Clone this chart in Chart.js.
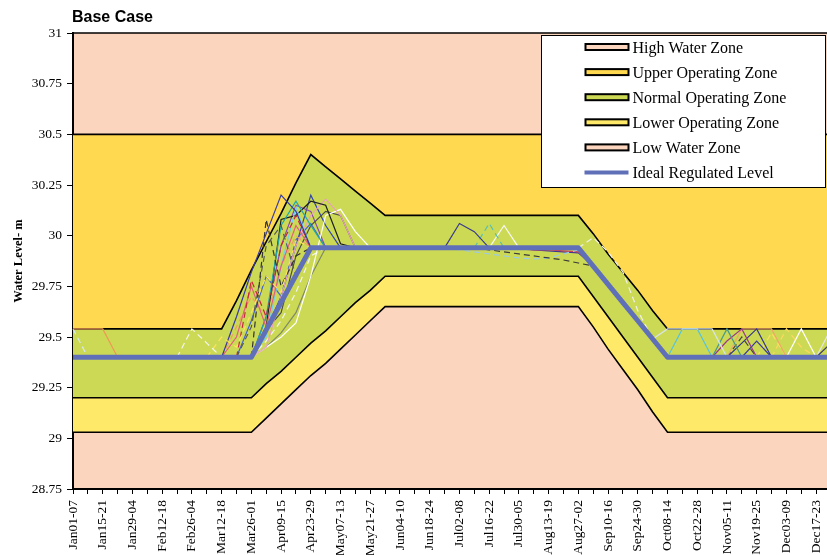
<!DOCTYPE html>
<html>
<head>
<meta charset="utf-8">
<title>Base Case</title>
<script src="https://cdn.jsdelivr.net/npm/chart.js@4.4.1/dist/chart.umd.min.js"></script>
<style>
  html, body { margin: 0; padding: 0; background: #ffffff; overflow: hidden; }
  #wrap { position: relative; width: 845px; height: 555px; }
</style>
</head>
<body>
<div id="wrap"><canvas id="chart" width="845" height="555"></canvas></div>
<script>
// Weekly periods of the year (category axis)
const weeks = [
  'Jan01-07','Jan08-14','Jan15-21','Jan22-28','Jan29-04','Feb05-11','Feb12-18','Feb19-25','Feb26-04',
  'Mar05-11','Mar12-18','Mar19-25','Mar26-01','Apr02-08','Apr09-15','Apr16-22','Apr23-29','Apr30-06',
  'May07-13','May14-20','May21-27','May28-03','Jun04-10','Jun11-17','Jun18-24','Jun25-01',
  'Jul02-08','Jul09-15','Jul16-22','Jul23-29','Jul30-05','Aug06-12','Aug13-19','Aug20-26','Aug27-02',
  'Sep03-09','Sep10-16','Sep17-23','Sep24-30','Oct01-07','Oct08-14','Oct15-21','Oct22-28','Oct29-04',
  'Nov05-11','Nov12-18','Nov19-25','Nov26-02','Dec03-09','Dec10-16','Dec17-23','Dec24-31'
];

// Water level axis ticks (m)
const levelTicks = [28.75, 29, 29.25, 29.5, 29.75, 30, 30.25, 30.5, 30.75, 31];

// Zone boundaries (m)
const upperLimit = [
  30.5,30.5,30.5,30.5,30.5,30.5,30.5,30.5,30.5,30.5,30.5,30.5,30.5,
  30.5,30.5,30.5,30.5,30.5,30.5,30.5,30.5,30.5,30.5,30.5,30.5,30.5,
  30.5,30.5,30.5,30.5,30.5,30.5,30.5,30.5,30.5,30.5,30.5,30.5,30.5,
  30.5,30.5,30.5,30.5,30.5,30.5,30.5,30.5,30.5,30.5,30.5,30.5,30.5
];
const normalTop = [
  29.54,29.54,29.54,29.54,29.54,29.54,29.54,29.54,29.54,29.54,
  29.54,29.68,29.83,29.97,30.11,30.26,30.40,30.34,30.28,30.22,
  30.16,30.10,30.10,30.10,30.10,30.10,30.10,30.10,30.10,30.10,
  30.10,30.10,30.10,30.10,30.10,30.01,29.91,29.82,29.73,29.63,
  29.54,29.54,29.54,29.54,29.54,29.54,29.54,29.54,29.54,29.54,29.54,29.54
];
const normalBottom = [
  29.20,29.20,29.20,29.20,29.20,29.20,29.20,29.20,29.20,29.20,29.20,29.20,29.20,
  29.27,29.33,29.40,29.47,29.53,29.60,29.67,29.73,
  29.80,29.80,29.80,29.80,29.80,29.80,29.80,29.80,29.80,29.80,29.80,29.80,29.80,29.80,
  29.70,29.60,29.50,29.40,29.30,
  29.20,29.20,29.20,29.20,29.20,29.20,29.20,29.20,29.20,29.20,29.20,29.20
];
const lowerLimit = [
  29.03,29.03,29.03,29.03,29.03,29.03,29.03,29.03,29.03,29.03,29.03,29.03,29.03,
  29.10,29.17,29.24,29.31,29.37,29.44,29.51,29.58,
  29.65,29.65,29.65,29.65,29.65,29.65,29.65,29.65,29.65,29.65,29.65,29.65,29.65,29.65,
  29.55,29.44,29.34,29.24,29.13,
  29.03,29.03,29.03,29.03,29.03,29.03,29.03,29.03,29.03,29.03,29.03,29.03
];

// Ideal regulated level (m)
const idealLevel = [
  29.40,29.40,29.40,29.40,29.40,29.40,29.40,29.40,29.40,29.40,29.40,29.40,29.40,
  29.535,29.67,29.805,
  29.94,29.94,29.94,29.94,29.94,29.94,29.94,29.94,29.94,29.94,
  29.94,29.94,29.94,29.94,29.94,29.94,29.94,29.94,29.94,
  29.85,29.76,29.67,29.58,29.49,
  29.40,29.40,29.40,29.40,29.40,29.40,29.40,29.40,29.40,29.40,29.40,29.40
];

// Simulated yearly levels, listed only for the weeks where they leave the ideal level
const run01 = { from: 'Jan01-07', levels: [29.54, 29.54, 29.54, 29.40] };
const run02 = { from: 'Jan01-07', levels: [29.54, 29.40] };
const run03 = { from: 'Feb19-25', levels: [29.40, 29.54, 29.47, 29.40] };
const run04 = { from: 'Mar05-11', levels: [29.40, 29.50, 29.45, 29.62, 29.80, 29.72, 29.98, 29.94] };
const run05 = { from: 'Mar12-18', levels: [29.40, 29.60, 29.82, 30.01, 30.20, 30.12, 29.94] };
const run06 = { from: 'Mar26-01', levels: [29.40, 30.08, 29.75, 29.90, 29.94] };
const run07 = { from: 'Mar19-25', levels: [29.40, 29.55, 29.95, 30.05, 29.80, 29.94] };
const run08 = { from: 'Mar19-25', levels: [29.40, 29.78, 29.60, 29.95, 30.10, 29.94] };
const run09 = { from: 'Mar12-18', levels: [29.40, 29.50, 29.75, 29.55, 29.85, 30.05, 29.94] };
const run10 = { from: 'Mar26-01', levels: [29.40, 29.60, 30.05, 30.17, 30.05, 29.94] };
const run11 = { from: 'Mar26-01', levels: [29.40, 29.50, 29.85, 30.14, 29.94] };
const run12 = { from: 'Mar26-01', levels: [29.40, 29.55, 30.08, 30.10, 30.17, 30.15, 29.96, 29.94] };
const run13 = { from: 'Mar26-01', levels: [29.40, 29.45, 29.70, 29.95, 30.10, 30.18, 30.10, 29.94] };
const run14 = { from: 'Mar26-01', levels: [29.40, 29.45, 29.50, 29.57, 29.80, 30.10, 30.13, 30.02, 29.94] };
const run15 = { from: 'Apr02-08', levels: [29.535, 29.62, 29.90, 30.05, 30.12, 30.10, 29.94] };
const run16 = { from: 'Mar12-18', levels: [29.40, 29.55, 29.70, 29.60, 29.85, 30.00, 29.94] };
const run17 = { from: 'Mar26-01', levels: [29.40, 29.60, 29.95, 30.15, 30.12, 29.94] };
const run18 = { from: 'Apr02-08', levels: [29.535, 29.70, 29.95, 30.20, 30.05, 29.94] };
const run19 = { from: 'Mar26-01', levels: [29.40, 29.48, 29.58, 29.72, 29.90, 29.94] };
const run20 = { from: 'Mar26-01', levels: [29.40, 29.45, 29.52, 29.62, 29.80, 29.94] };
const run21 = { from: 'Mar19-25', levels: [29.40, 29.58, 29.80, 29.70, 29.98, 30.06, 29.94] };
const run22 = { from: 'Jun25-01', levels: [29.94, 30.06, 30.02, 29.94] };
const run23 = { from: 'Jul09-15', levels: [29.94, 30.06, 29.94] };
const run24 = { from: 'Jul16-22', levels: [29.94, 30.05, 29.94] };
const run25 = { from: 'Jul09-15', levels: [29.94, 29.93, 29.92, 29.91, 29.90, 29.89, 29.88, 29.865, 29.85] };
const run26 = { from: 'Jun25-01', levels: [29.94, 29.93, 29.92, 29.91, 29.90, 29.89, 29.885, 29.89, 29.91, 29.93, 29.85] };
const run27 = { from: 'Jul23-29', levels: [29.94, 29.935, 29.93, 29.93, 29.925, 29.92, 29.85] };
const run28 = { from: 'Jul30-05', levels: [29.94, 29.93, 29.925, 29.92, 29.915, 29.85] };
const run29 = { from: 'Aug27-02', levels: [29.94, 29.99, 29.92, 29.82, 29.63, 29.49] };
const run30 = { from: 'Oct01-07', levels: [29.49, 29.54, 29.54, 29.54, 29.54, 29.40] };
const run31 = { from: 'Oct08-14', levels: [29.40, 29.54, 29.54, 29.40] };
const run32 = { from: 'Oct29-04', levels: [29.40, 29.54, 29.40] };
const run33 = { from: 'Oct29-04', levels: [29.40, 29.48, 29.54, 29.40] };
const run34 = { from: 'Nov05-11', levels: [29.40, 29.47, 29.54, 29.40] };
const run35 = { from: 'Nov12-18', levels: [29.40, 29.48, 29.40] };
const run36 = { from: 'Nov05-11', levels: [29.40, 29.54, 29.54, 29.54, 29.40] };
const run37 = { from: 'Nov19-25', levels: [29.40, 29.52, 29.40] };
const run38 = { from: 'Dec03-09', levels: [29.40, 29.54, 29.40] };
const run39 = { from: 'Dec17-23', levels: [29.40, 29.47] };
const run40 = { from: 'Nov26-02', levels: [29.40, 29.54, 29.45, 29.40] };
const run41 = { from: 'Dec17-23', levels: [29.40, 29.54] };
const run42 = { from: 'Nov05-11', levels: [29.40, 29.50, 29.40] };

const runs = [run01, run02, run03, run04, run05, run06, run07, run08, run09, run10,
  run11, run12, run13, run14, run15, run16, run17, run18, run19, run20, run21,
  run22, run23, run24, run25, run26, run27, run28, run29, run30, run31, run32,
  run33, run34, run35, run36, run37, run38, run39, run40, run41, run42];

// Legend entries
const legendLabels = ['High Water Zone', 'Upper Operating Zone', 'Normal Operating Zone',
  'Lower Operating Zone', 'Low Water Zone', 'Ideal Regulated Level'];

// ---- styles ----
const zoneColors = ['#FCD5BF', '#FFD950', '#CCD955', '#FFE968', '#FCD5BF'];
const idealColor = '#6070B8';
const runStyles = [
  ['#EE9955', false], ['#D8E8F4', true], ['#F4F4F0', true], ['#FFE45A', true],
  ['#3B3B9E', false], ['#333333', true], ['#5A5A5A', true], ['#C8283C', true],
  ['#E0607E', false], ['#20A8A8', false], ['#70D0F0', false], ['#1E1E1E', false],
  ['#E8A2BC', false], ['#FFFFFF', false], ['#4D4D4D', false], ['#F0A060', true],
  ['#8A4AAE', false], ['#3346AA', false], ['#F4F4F4', true], ['#7F8A6A', false],
  ['#4466CC', false], ['#3B3B8E', false], ['#5CBFAE', true], ['#F8F8F8', false],
  ['#3A3A3A', true], ['#9CCAE8', true], ['#D04050', false], ['#36369A', false],
  ['#F0F0E8', true], ['#D8E4EC', false], ['#58C4DC', false], ['#4A9A8A', false],
  ['#9A3A8A', false], ['#34348C', false], ['#3C3CA0', false], ['#F0A868', false],
  ['#FFE060', true], ['#FFFFFF', false], ['#3A3A6A', false], ['#FFD860', true],
  ['#E6E6E6', false], ['#444444', true]
];

function runPoints(run) {
  const i0 = weeks.indexOf(run.from);
  return run.levels.map((v, k) => ({ x: weeks[i0 + k], y: v }));
}

const datasets = [];
datasets.push({
  label: legendLabels[5], data: idealLevel, borderColor: idealColor,
  borderWidth: 5, fill: false, borderJoinStyle: 'round'
});
runs.forEach((r, i) => {
  datasets.push({
    label: 'run' + (i + 1), data: runPoints(r), borderColor: runStyles[i][0],
    borderWidth: 1.2, borderDash: runStyles[i][1] ? [6, 4] : [], fill: false
  });
});
const boundaryLine = { borderColor: '#000000', borderWidth: 1.6 };
datasets.push(Object.assign({ label: 'upper limit', data: upperLimit, fill: '+1', backgroundColor: zoneColors[1] }, boundaryLine));
datasets.push(Object.assign({ label: 'normal top', data: normalTop, fill: '+1', backgroundColor: zoneColors[2] }, boundaryLine));
datasets.push(Object.assign({ label: 'normal bottom', data: normalBottom, fill: '+1', backgroundColor: zoneColors[3] }, boundaryLine));
datasets.push(Object.assign({ label: 'lower limit', data: lowerLimit, fill: false }, boundaryLine));

// Pink plot background (high and low water zones) and top frame
const plotFrame = {
  id: 'plotFrame',
  beforeDraw(chart) {
    const { ctx, chartArea: a } = chart;
    ctx.save();
    ctx.fillStyle = zoneColors[0];
    ctx.fillRect(a.left, a.top, a.right - a.left, a.bottom - a.top);
    ctx.restore();
  },
  afterDatasetsDraw(chart) {
    const { ctx, chartArea: a } = chart;
    ctx.save();
    ctx.strokeStyle = '#000';
    ctx.lineWidth = 1.5;
    ctx.beginPath();
    ctx.moveTo(a.left, a.top);
    ctx.lineTo(a.right + 10, a.top);
    ctx.stroke();
    ctx.restore();
  }
};

// Chart heading
const heading = {
  id: 'heading',
  afterDraw(chart) {
    const { ctx, chartArea: a } = chart;
    ctx.save();
    ctx.font = 'bold 16px "Liberation Sans", Arial, sans-serif';
    ctx.fillStyle = '#000';
    ctx.textBaseline = 'alphabetic';
    ctx.textAlign = 'left';
    ctx.fillText('Base Case', a.left - 1, 22);
    ctx.restore();
  }
};

// Boxed legend inside the plot
const zoneLegend = {
  id: 'zoneLegend',
  afterDraw(chart) {
    const { ctx, chartArea: a } = chart;
    const bx = a.right - 289.5, by = a.top + 2.5, bw = 284, bh = 152;
    ctx.save();
    ctx.fillStyle = '#fff';
    ctx.fillRect(bx, by, bw, bh);
    ctx.strokeStyle = '#000';
    ctx.lineWidth = 1;
    ctx.strokeRect(bx, by, bw, bh);
    ctx.font = '16px "Liberation Serif", "Times New Roman", serif';
    ctx.textBaseline = 'alphabetic';
    ctx.textAlign = 'left';
    legendLabels.forEach((label, i) => {
      const cy = by + 11.5 + i * 25.1;
      if (i < 5) {
        ctx.fillStyle = zoneColors[i];
        ctx.fillRect(bx + 44, cy - 3, 43, 6);
        ctx.strokeStyle = '#000';
        ctx.lineWidth = 2;
        ctx.strokeRect(bx + 44, cy - 3, 43, 6);
      } else {
        ctx.strokeStyle = idealColor;
        ctx.lineWidth = 4;
        ctx.beginPath();
        ctx.moveTo(bx + 43, cy);
        ctx.lineTo(bx + 87, cy);
        ctx.stroke();
      }
      ctx.fillStyle = '#000';
      ctx.fillText(label, bx + 91, cy + 5.5);
    });
    ctx.restore();
  }
};

Chart.defaults.font.family = '"Liberation Serif", "Times New Roman", serif';
Chart.defaults.color = '#000';

new Chart(document.getElementById('chart'), {
  type: 'line',
  data: { labels: weeks, datasets },
  options: {
    responsive: false,
    animation: false,
    events: [],
    layout: { padding: { left: 0, right: 14, top: 33, bottom: 0 } },
    elements: { point: { radius: 0 }, line: { tension: 0 } },
    plugins: {
      legend: { display: false },
      tooltip: { enabled: false },
      filler: { drawTime: 'beforeDatasetsDraw' }
    },
    scales: {
      x: {
        type: 'category',
        offset: false,
        z: 1,
        grid: { drawOnChartArea: false, drawTicks: true, tickLength: 5, tickColor: '#000', lineWidth: 1 },
        border: { display: true, color: '#000', width: 2 },
        ticks: {
          autoSkip: false, maxRotation: 90, minRotation: 90, padding: 6,
          font: { size: 13.5 }, color: '#000',
          callback: (v, i) => (i % 2 === 0 ? weeks[i] : '')
        },
        afterFit: (s) => { s.height = 66; s.paddingLeft = 0; s.paddingRight = 0; }
      },
      y: {
        min: 28.75, max: 31,
        z: 1,
        grid: { drawOnChartArea: false, drawTicks: true, tickLength: 6, tickColor: '#000', lineWidth: 1 },
        border: { display: true, color: '#000', width: 2 },
        ticks: { padding: 5, font: { size: 13.5 }, color: '#000', callback: (v) => String(+v.toFixed(2)) },
        afterBuildTicks: (s) => { s.ticks = levelTicks.map((v) => ({ value: v })); },
        title: {
          display: true, text: 'Water Level- m',
          font: { size: 12.5, weight: 'bold' }, color: '#000',
          padding: { top: 11, bottom: 0 }
        },
        afterFit: (s) => { s.width = 73; s.paddingTop = 0; s.paddingBottom = 0; }
      }
    }
  },
  plugins: [plotFrame, heading, zoneLegend]
});
</script>
</body>
</html>
